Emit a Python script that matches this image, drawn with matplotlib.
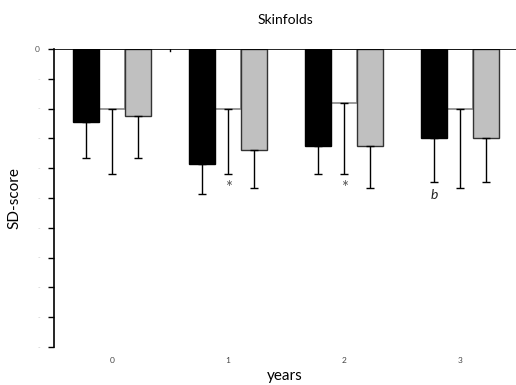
import matplotlib
matplotlib.use("Agg")
import matplotlib.pyplot as plt
import numpy as np

plt.rcParams['font.family'] = ['Lato', 'DejaVu Sans']

years = ["0", "1", "2", "3"]
black_vals = [-0.49, -0.77, -0.65, -0.60]
black_err = [0.24, 0.20, 0.19, 0.29]
white_vals = [-0.40, -0.40, -0.36, -0.40]
white_err = [0.44, 0.44, 0.48, 0.53]
gray_vals = [-0.45, -0.68, -0.65, -0.60]
gray_err = [0.28, 0.25, 0.28, 0.29]
annotations = ["", "*", "*", "b"]
yticks = [0, -0.2, -0.4, -0.6, -0.8, -1.0, -1.2, -1.4, -1.6, -1.8, -2.0]

fig = plt.figure(figsize=(5.16, 3.85), dpi=100)
ax = fig.add_axes([54/516, 1-347/385, 1-54/516, 298/385])

x = np.arange(len(years))
w = 0.225
ekw = dict(elinewidth=1.0, capthick=1.0, ecolor='black')
ax.bar(x, white_vals, w, color='white', edgecolor='#888888', linewidth=1.2,
       yerr=[white_err, [0]*4], capsize=3, error_kw=ekw, zorder=1)
ax.bar(x - w, black_vals, w, color='black', edgecolor='black', linewidth=1.0,
       yerr=[black_err, [0]*4], capsize=3, error_kw=ekw, zorder=2)
ax.bar(x + w, gray_vals, w, color='#c0c0c0', edgecolor='#333333', linewidth=1.0,
       yerr=[gray_err, [0]*4], capsize=3, error_kw=ekw, zorder=2)

for i, a in enumerate(annotations):
    if a == "*":
        ax.text(x[i], white_vals[i] - white_err[i] - 0.04, "*", ha='center', va='top',
                fontsize=12, color='#555555')
    elif a == "b":
        ax.text(x[i] - w, black_vals[i] - black_err[i] - 0.05, "b", ha='center', va='top',
                fontsize=10, style='italic', color='#222222')

ax.axhline(0, color='black', linewidth=1.2, zorder=5)
ax.plot([0.5, 0.5], [0, -0.012], color='black', linewidth=1.0)

ax.set_xlim(-0.5, 3.48)
ax.set_ylim(-2.0, 0)
ax.set_yticks(yticks)
ax.set_yticklabels(["0"] + ["-"] * (len(yticks) - 1))
for i, lbl in enumerate(ax.get_yticklabels()):
    if i == 0:
        lbl.set_color('#555555')
        lbl.set_fontsize(6)
    else:
        lbl.set_color('#c8c8c8')
        lbl.set_fontsize(5)
ax.set_xticks(x)
ax.set_xticklabels(years, fontsize=6, color='#444444')
ax.tick_params(axis='x', length=0, pad=7)
ax.tick_params(axis='y', length=4, width=1.0, direction='out', pad=6)

for s in ['top', 'right', 'bottom']:
    ax.spines[s].set_visible(False)
ax.spines['left'].set_linewidth(1.2)

ax.set_ylabel("SD-score", fontsize=11, labelpad=10)
ax.set_xlabel("years", fontsize=11, labelpad=4)
fig.text(285/516, 1-20/385, "Skinfolds", ha='center', va='center', fontsize=10)

fig.savefig("out.png", dpi=100)
